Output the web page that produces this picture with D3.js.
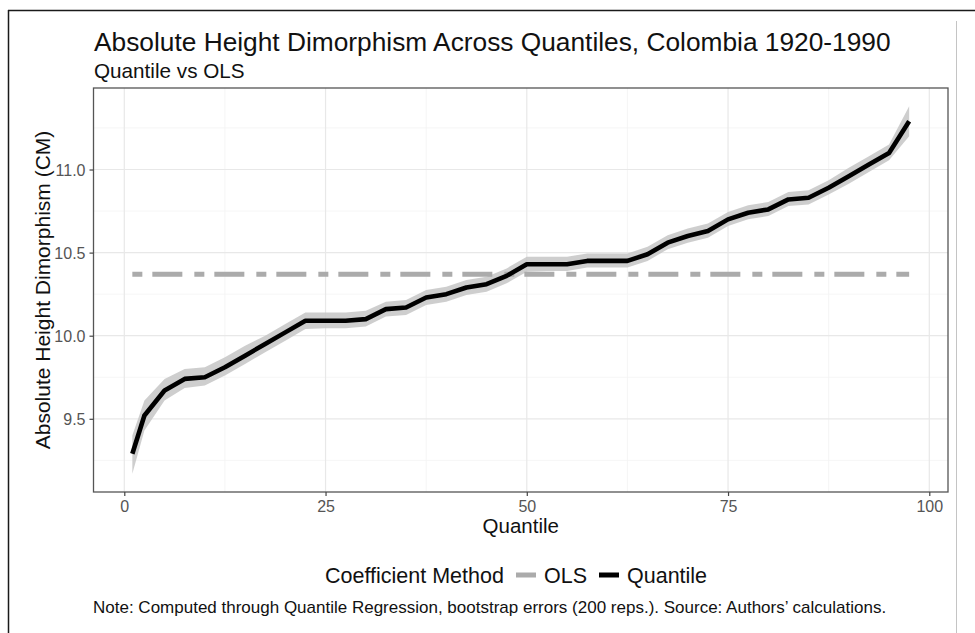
<!DOCTYPE html>
<html>
<head>
<meta charset="utf-8">
<script src="https://cdn.jsdelivr.net/npm/d3@7"></script>
<style>
  html, body { margin: 0; padding: 0; background: #fff; }
  svg { display: block; font-family: "Liberation Sans", Arial, sans-serif; }
</style>
</head>
<body>
<svg id="chart" width="975" height="633"></svg>
<script>
// ---- data ----
const quantiles = [1, 2.5, 5, 7.5, 10, 12.5, 15, 17.5, 20, 22.5, 25, 27.5, 30, 32.5, 35, 37.5, 40, 42.5, 45, 47.5,
                   50, 52.5, 55, 57.5, 60, 62.5, 65, 67.5, 70, 72.5, 75, 77.5, 80, 82.5, 85, 87.5, 90, 92.5, 95, 97.5];
const coefQuantile = [9.29, 9.52, 9.67, 9.74, 9.75, 9.81, 9.88, 9.95, 10.02, 10.09, 10.09, 10.09, 10.10, 10.16, 10.17, 10.23, 10.25, 10.29, 10.31, 10.36,
                      10.43, 10.43, 10.43, 10.45, 10.45, 10.45, 10.49, 10.56, 10.60, 10.63, 10.70, 10.74, 10.76, 10.82, 10.83, 10.89, 10.96, 11.03, 11.10, 11.29];
const lowerQuantile = [9.17, 9.43, 9.61, 9.685, 9.70, 9.76, 9.83, 9.90, 9.97, 10.04, 10.045, 10.045, 10.055, 10.115, 10.125, 10.185, 10.205, 10.245, 10.265, 10.315,
                       10.385, 10.39, 10.39, 10.41, 10.41, 10.41, 10.45, 10.52, 10.56, 10.59, 10.66, 10.70, 10.72, 10.78, 10.79, 10.85, 10.915, 10.985, 11.055, 11.20];
const upperQuantile = [9.40, 9.61, 9.74, 9.80, 9.81, 9.87, 9.94, 10.00, 10.07, 10.14, 10.14, 10.14, 10.15, 10.205, 10.215, 10.275, 10.295, 10.335, 10.355, 10.405,
                       10.475, 10.475, 10.475, 10.495, 10.495, 10.495, 10.535, 10.605, 10.645, 10.675, 10.745, 10.785, 10.805, 10.865, 10.875, 10.935, 11.01, 11.08, 11.15, 11.38];
const olsValue = 10.37;
const xTicks = [0, 25, 50, 75, 100];
const yTicks = [9.5, 10.0, 10.5, 11.0];
const xMinor = [12.5, 37.5, 62.5, 87.5];
const yMinor = [9.25, 9.75, 10.25, 10.75, 11.25];
const legendLabels = ["OLS", "Quantile"];

// ---- layout ----
const svg = d3.select("#chart");
const panel = { left: 93.5, right: 948, top: 88, bottom: 492 };

function expand(ext) { const r = ext[1] - ext[0]; return [ext[0] - 0.05 * r, ext[1] + 0.05 * r]; }
const xDom = expand(d3.extent(quantiles));
const yDom = expand([d3.min(lowerQuantile), d3.max(upperQuantile)]);

const x = d3.scaleLinear().domain(xDom).range([panel.left, panel.right]);
const y = d3.scaleLinear().domain(yDom).range([panel.bottom, panel.top]);

const rows = quantiles.map((q, i) => ({ q, v: coefQuantile[i], lo: lowerQuantile[i], hi: upperQuantile[i] }));

// outer frame (screenshot edges)
svg.append("line").attr("x1", 8).attr("x2", 975).attr("y1", 10.5).attr("y2", 10.5).attr("stroke", "#1a1a1a").attr("stroke-width", 1.5);
svg.append("line").attr("x1", 8.5).attr("x2", 8.5).attr("y1", 10).attr("y2", 633).attr("stroke", "#1a1a1a").attr("stroke-width", 1.5);
svg.append("line").attr("x1", 956.5).attr("x2", 956.5).attr("y1", 21).attr("y2", 633).attr("stroke", "#c4c4c4").attr("stroke-width", 1);

// grid
const g = svg.append("g");
g.selectAll(".xminor").data(xMinor).join("line")
  .attr("x1", d => x(d)).attr("x2", d => x(d)).attr("y1", panel.top).attr("y2", panel.bottom)
  .attr("stroke", "#f2f2f2").attr("stroke-width", 0.8);
g.selectAll(".yminor").data(yMinor).join("line")
  .attr("y1", d => y(d)).attr("y2", d => y(d)).attr("x1", panel.left).attr("x2", panel.right)
  .attr("stroke", "#f2f2f2").attr("stroke-width", 0.8);
g.selectAll(".xmajor").data(xTicks).join("line")
  .attr("x1", d => x(d)).attr("x2", d => x(d)).attr("y1", panel.top).attr("y2", panel.bottom)
  .attr("stroke", "#e8e8e8").attr("stroke-width", 1.2);
g.selectAll(".ymajor").data(yTicks).join("line")
  .attr("y1", d => y(d)).attr("y2", d => y(d)).attr("x1", panel.left).attr("x2", panel.right)
  .attr("stroke", "#e8e8e8").attr("stroke-width", 1.2);

// ribbon
svg.append("path").datum(rows)
  .attr("d", d3.area().x(d => x(d.q)).y0(d => y(d.lo)).y1(d => y(d.hi)))
  .attr("fill", "#c6c6c6").attr("fill-opacity", 0.85);

// OLS line
svg.append("path").datum(quantiles)
  .attr("d", d3.line().x(d => x(d)).y(() => y(olsValue)))
  .attr("fill", "none").attr("stroke", "#ababab").attr("stroke-width", 5)
  .attr("stroke-dasharray", "10,10,30,12");

// Quantile line
svg.append("path").datum(rows)
  .attr("d", d3.line().x(d => x(d.q)).y(d => y(d.v)))
  .attr("fill", "none").attr("stroke", "#000").attr("stroke-width", 4.6)
  .attr("stroke-linejoin", "round");

// panel border
svg.append("rect").attr("x", panel.left).attr("y", panel.top)
  .attr("width", panel.right - panel.left).attr("height", panel.bottom - panel.top)
  .attr("fill", "none").attr("stroke", "#555").attr("stroke-width", 1.3);

// axes
const xAxis = svg.append("g").attr("transform", `translate(0,${panel.bottom})`)
  .call(d3.axisBottom(x).tickValues(xTicks).tickFormat(d3.format("d")).tickSizeOuter(0).tickSize(4).tickPadding(5));
const yAxis = svg.append("g").attr("transform", `translate(${panel.left},0)`)
  .call(d3.axisLeft(y).tickValues(yTicks).tickFormat(d3.format(".1f")).tickSizeOuter(0).tickSize(4).tickPadding(4));
[xAxis, yAxis].forEach(a => {
  a.select(".domain").remove();
  a.selectAll(".tick line").attr("stroke", "#444").attr("stroke-width", 1.2);
  a.selectAll(".tick text").attr("fill", "#555").style("font-size", "16px")
    .style("font-family", "'Liberation Sans', Arial, sans-serif");
});
yAxis.selectAll(".tick text").attr("dy", "0.36em");

// titles
svg.append("text").attr("x", 94).attr("y", 51).attr("fill", "#111")
  .style("font-size", "26.3px").text("Absolute Height Dimorphism Across Quantiles, Colombia 1920-1990");
svg.append("text").attr("x", 94).attr("y", 78).attr("fill", "#111")
  .style("font-size", "20.7px").text("Quantile vs OLS");

svg.append("text").attr("x", (panel.left + panel.right) / 2).attr("y", 533).attr("text-anchor", "middle")
  .attr("fill", "#111").style("font-size", "20.5px").text("Quantile");
svg.append("text").attr("transform", `translate(50,${(panel.top + panel.bottom) / 2}) rotate(-90)`)
  .attr("text-anchor", "middle").attr("fill", "#111").style("font-size", "21px")
  .text("Absolute Height Dimorphism (CM)");

// legend
const leg = svg.append("g");
leg.append("text").attr("x", 325).attr("y", 583).attr("fill", "#111").style("font-size", "21.5px").text("Coefficient Method");
const keyColors = ["#ababab", "#000"];
const keyX = [516, 599];
const labX = [544, 627];
legendLabels.forEach((lab, i) => {
  leg.append("line").attr("x1", keyX[i]).attr("x2", keyX[i] + 20).attr("y1", 575).attr("y2", 575)
    .attr("stroke", keyColors[i]).attr("stroke-width", 5);
  leg.append("text").attr("x", labX[i]).attr("y", 583).attr("fill", "#111").style("font-size", "21.5px").text(lab);
});

// caption
svg.append("text").attr("x", 93).attr("y", 613).attr("fill", "#111").style("font-size", "17px")
  .text("Note: Computed through Quantile Regression, bootstrap errors (200 reps.). Source: Authors\u2019 calculations.");
</script>
</body>
</html>
